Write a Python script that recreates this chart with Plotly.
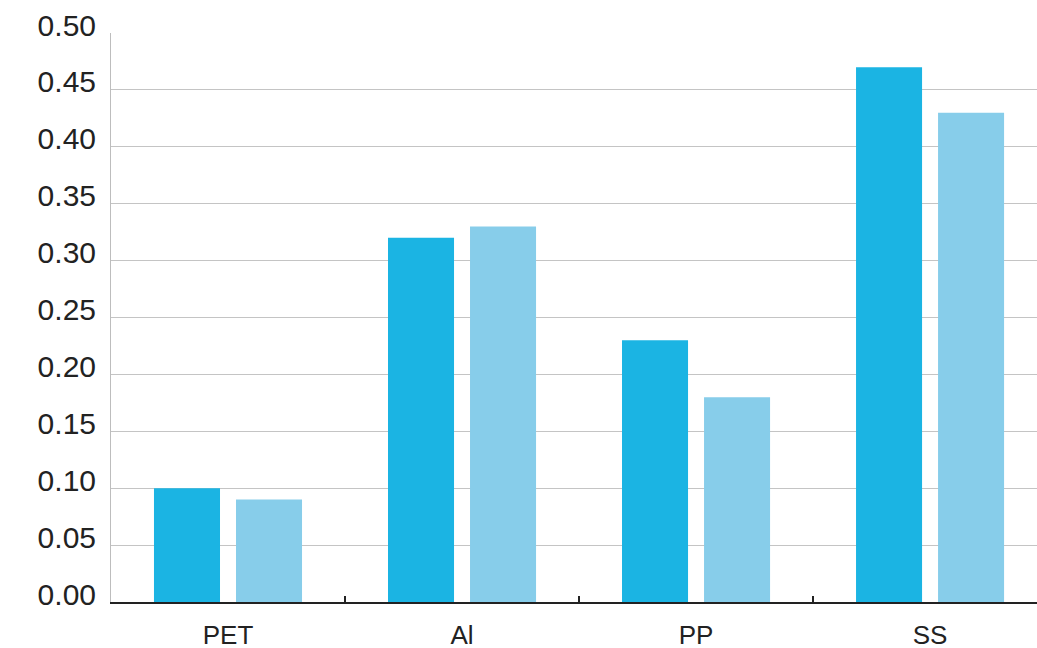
import plotly.graph_objects as go

categories = ["PET", "Al", "PP", "SS"]
series_a = [0.10, 0.32, 0.23, 0.47]
series_b = [0.09, 0.33, 0.18, 0.43]
y_ticks = [0.0, 0.05, 0.10, 0.15, 0.20, 0.25, 0.30, 0.35, 0.40, 0.45, 0.50]
y_tick_text = ["0.00", "0.05", "0.10", "0.15", "0.20", "0.25", "0.30", "0.35", "0.40", "0.45", "0.50"]

fig = go.Figure()
fig.add_trace(go.Bar(x=categories, y=series_a, marker=dict(color="#1BB4E3", line=dict(width=0)), showlegend=False))
fig.add_trace(go.Bar(x=categories, y=series_b, marker=dict(color="#87CDEA", line=dict(width=0)), showlegend=False))

fig.update_layout(
    width=1037, height=648,
    margin=dict(l=111, r=0, t=33, b=46, autoexpand=False),
    paper_bgcolor="white", plot_bgcolor="white",
    barmode="group", bargap=0.299, bargroupgap=0.195,
    font=dict(family="Liberation Sans, Arial, sans-serif", color="#222222"),
)
fig.update_xaxes(
    type="category", range=[-0.5, 3.457], automargin=False,
    tickson="boundaries", ticks="inside", ticklen=6, tickwidth=2, tickcolor="#222222",
    showline=True, linecolor="#222222", linewidth=2,
    showgrid=False, tickfont=dict(size=26, color="#222222"),
    ticklabelstandoff=9,
)
fig.update_yaxes(
    range=[0, 0.5], tickvals=y_ticks, ticktext=y_tick_text, automargin=False,
    showgrid=True, gridcolor="#c4c4c4", gridwidth=1,
    showline=True, linecolor="#bdbdbd", linewidth=1,
    zeroline=False, ticks="", tickfont=dict(size=30, color="#222222"),
    ticklabelstandoff=8, ticklabelshift=-8,
)
fig.write_html(
    "out.html",
    config={"displayModeBar": False},
    post_script="document.body.style.margin='0px';document.body.style.overflow='hidden';",
)
